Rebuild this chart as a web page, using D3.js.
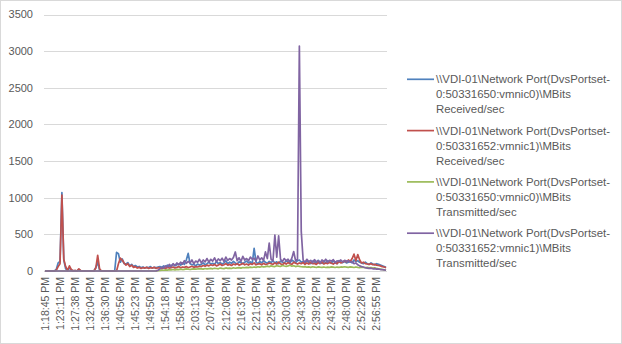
<!DOCTYPE html>
<html><head><meta charset="utf-8">
<script src="https://cdn.jsdelivr.net/npm/d3@7"></script>
<style>html,body{margin:0;padding:0;background:#fff;}svg{display:block;}</style>
</head><body>
<svg id="chart" width="622" height="344"></svg>
<script>
const timeLabels = ["1:18:45 PM","1:23:11 PM","1:27:38 PM","1:32:04 PM","1:36:30 PM","1:40:56 PM","1:45:23 PM","1:49:50 PM","1:54:18 PM","1:58:45 PM","2:03:13 PM","2:07:40 PM","2:12:08 PM","2:16:37 PM","2:21:05 PM","2:25:34 PM","2:30:03 PM","2:34:33 PM","2:39:02 PM","2:43:31 PM","2:48:00 PM","2:52:28 PM","2:56:55 PM"];
const yTicks = [0,500,1000,1500,2000,2500,3000,3500];
const seriesNames = [
  ["\\\\VDI-01\\Network Port(DvsPortset-","0:50331650:vmnic0)\\MBits","Received/sec"],
  ["\\\\VDI-01\\Network Port(DvsPortset-","0:50331652:vmnic1)\\MBits","Received/sec"],
  ["\\\\VDI-01\\Network Port(DvsPortset-","0:50331650:vmnic0)\\MBits","Transmitted/sec"],
  ["\\\\VDI-01\\Network Port(DvsPortset-","0:50331652:vmnic1)\\MBits","Transmitted/sec"]
];
const seriesColors = ["#4F81BD","#C0504D","#9BBB59","#8064A2"];

const recv0 = [0,0,0,0,0,0,
 20,110,130,1070,150,30,10,40,10,5,0,0,20,0,
 0,0,0,0,0,0,0,
 50,120,10,
 0,0,0,0,0,0,0,0,
 255,235,120,165,100,95,115,70,90,60,75,55,62,45,55,40,50,45,60,40,50,45,55,
 60,50,70,55,80,60,75,90,70,85,95,80,110,90,150,240,100,85,90,70,95,80,
 90,110,85,100,120,95,105,90,130,100,115,95,110,140,100,120,105,130,110,95,125,115,100,120,135,110,125,105,
 310,
 120,100,130,110,140,120,105,130,115,140,110,125,100,135,120,110,140,125,110,150,130,115,140,
 150,120,
 130,110,140,120,100,135,125,110,145,120,105,130,115,140,120,110,135,125,100,140,120,115,130,110,
 120,140,110,150,130,140,120,110,100,120,
 100,90,110,95,85,100,90,80,70,60,50];

const recv1 = [0,0,0,0,0,0,
 10,60,100,1035,160,60,10,70,20,0,10,0,30,5,
 0,0,0,0,0,0,0,
 40,215,30,
 0,0,0,0,0,0,0,0,0,
 100,175,150,110,80,100,60,80,50,60,40,50,35,45,40,50,35,45,40,50,35,45,
 40,30,45,35,50,40,45,55,40,50,60,45,55,50,60,45,55,65,50,60,55,65,
 60,75,65,80,70,85,75,90,70,80,95,75,85,100,80,90,75,95,85,100,80,90,105,85,95,80,100,90,110,85,95,100,85,105,90,95,110,100,
 90,110,95,120,100,85,110,95,115,100,90,120,105,95,110,
 100,115,90,110,95,120,100,105,90,115,100,125,95,110,100,120,105,95,115,100,130,110,120,140,125,
 150,130,170,230,140,225,150,110,120,100,
 95,90,100,85,90,80,75,70,60,55,45];

const sent0 = [0,0,0,0,0,0,0,0,0,0,
 0,0,0,0,0,0,0,0,0,0,
 0,0,0,0,0,0,0,0,0,0,
 0,0,0,0,0,0,0,0,0,0,
 0,0,0,0,0,0,0,0,0,0,
 0,0,0,0,0,0,0,0,0,0,
 5,
 8,12,10,15,12,18,15,20,14,22,18,25,20,22,28,24,20,26,30,25,28,32,
 30,26,34,28,32,36,30,38,34,30,40,35,32,42,36,40,34,44,38,42,46,40,48,44,50,46,52,48,
 55,50,58,52,62,56,60,66,58,70,64,60,72,66,62,75,68,64,70,78,66,72,60,68,64,
 58,55,60,52,56,50,58,54,48,56,52,50,55,48,53,50,56,52,48,54,50,55,52,58,54,
 50,56,52,48,55,50,46,52,48,44,50,42,46,40,44,
 35,30,25,20,15,10];

const sent1 = [0,0,0,0,0,0,0,0,0,0,
 0,0,0,0,0,0,0,0,0,0,
 0,0,0,0,0,0,0,0,0,0,
 0,0,0,0,0,0,0,0,0,0,
 0,0,0,0,0,0,0,0,0,0,
 0,0,0,0,0,0,0,0,0,0,
 10,
 30,50,40,70,55,90,60,100,75,110,85,120,95,140,105,130,110,150,100,135,120,160,
 110,150,125,170,120,160,135,180,125,165,140,175,130,190,145,170,150,185,
 260,
 140,180,130,200,150,170,140,190,160,175,135,205,150,180,145,260,170,
 380,
 160,140,490,190,480,160,
 130,170,140,160,125,175,
 265,140,160,
 3070,540,
 150,120,160,130,145,115,155,125,140,110,150,130,160,120,145,135,155,115,140,130,150,125,145,135,
 140,120,130,100,110,85,70,60,55,45,
 40,35,38,30,32,25,28,20,18,15,10];

const allSeries = [recv0, recv1, sent0, sent1];
const labelEvery = 8;

const svg = d3.select("#chart");
const W = 622, H = 344;
const plot = {left: 44, right: 387, top: 14.5, bottom: 271};
const font = "'Liberation Sans', Arial, sans-serif";
const textColor = "#595959";

svg.append("rect").attr("x",0.5).attr("y",0.5).attr("width",W-1).attr("height",H-1)
  .attr("fill","#fff").attr("stroke","#d9d9d9");

const n = recv0.length;
const x = d3.scaleLinear().domain([0, n]).range([plot.left, plot.right]);
const y = d3.scaleLinear().domain([0, 3500]).range([plot.bottom, plot.top]);

// gridlines
svg.append("g").selectAll("line").data(yTicks).join("line")
  .attr("x1", plot.left).attr("x2", plot.right)
  .attr("y1", d => Math.round(y(d))+0.5).attr("y2", d => Math.round(y(d))+0.5)
  .attr("stroke", "#d9d9d9").attr("stroke-width", 1);

// y labels
svg.append("g").selectAll("text").data(yTicks).join("text")
  .attr("x", 33).attr("y", d => y(d)).attr("dy","0.35em")
  .attr("text-anchor","end").attr("font-family",font).attr("font-size",11)
  .attr("fill",textColor).text(d => d);

// x labels
svg.append("g").selectAll("text").data(timeLabels).join("text")
  .attr("transform",(d,i) => `translate(${x(i*labelEvery+0.5)},277) rotate(-90)`)
  .attr("dy","0.35em").attr("text-anchor","end")
  .attr("font-family",font).attr("font-size",10.5).attr("fill",textColor).text(d => d);

// lines
const line = d3.line().x((d,i) => x(i+0.5)).y(d => y(d));
svg.append("g").selectAll("path").data(allSeries).join("path")
  .attr("d", d => line(d)).attr("fill","none")
  .attr("stroke",(d,i) => seriesColors[i]).attr("stroke-width",1.7)
  .attr("stroke-linejoin","round");

// legend
const lg = svg.append("g").selectAll("g").data(seriesNames).join("g")
  .attr("transform",(d,i) => `translate(0,${79.3 + i*51.3})`);
lg.append("line").attr("x1",407).attr("x2",434).attr("y1",0).attr("y2",0)
  .attr("stroke",(d,i) => seriesColors[i]).attr("stroke-width",1.7);
lg.each(function(d){
  const g = d3.select(this);
  d.forEach((t,j) => {
    g.append("text").attr("x",436).attr("y",j*15).attr("dy","0.35em")
      .attr("font-family",font).attr("font-size",11.4).attr("fill",textColor).text(t);
  });
});
</script>
</body></html>
